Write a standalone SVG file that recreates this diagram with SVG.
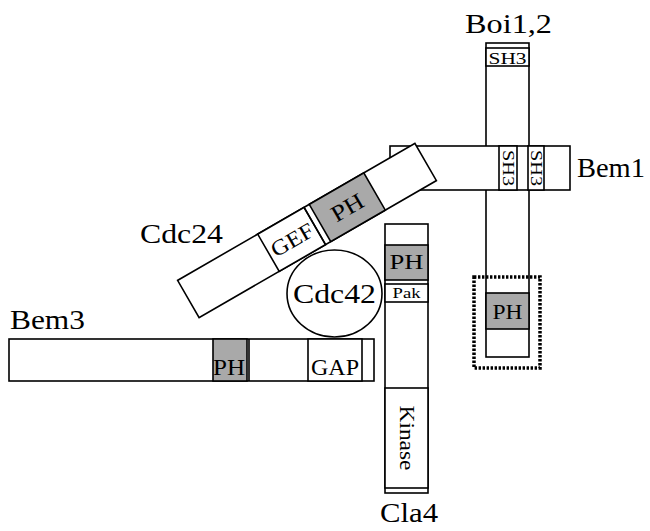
<svg xmlns="http://www.w3.org/2000/svg" width="650" height="531" viewBox="0 0 650 531">
<style>
.box{fill:#fff;stroke:#000;stroke-width:1.6}
.ph{fill:#a9a9a9;stroke:#000;stroke-width:1.6}
.ln{stroke:#000;stroke-width:1.6;fill:none}
.dash{fill:none;stroke:#000;stroke-width:3.5;stroke-dasharray:2.4 1.6}
text{font-family:"Liberation Serif","Times New Roman",serif;fill:#000}
.lbl{font-size:28px}
.sm{font-size:22px}
</style>
<rect width="650" height="531" fill="#fff"/>

<g id="boi">
  <rect class="box" x="486" y="43" width="43" height="314"/>
  <rect class="box" x="486" y="48" width="43" height="18"/>
  <text x="507.5" y="64" font-size="17" text-anchor="middle" textLength="38" lengthAdjust="spacingAndGlyphs">SH3</text>
  <rect class="ph" x="486" y="293" width="43" height="36"/>
  <text class="sm" x="507.5" y="319" text-anchor="middle" textLength="30" lengthAdjust="spacingAndGlyphs">PH</text>
  <rect class="dash" x="474" y="277" width="66" height="91"/>
  <text class="lbl" x="465" y="33" textLength="87" lengthAdjust="spacingAndGlyphs">Boi1,2</text>
</g>

<g id="bem1">
  <rect class="box" x="390" y="146" width="180" height="44"/>
  <rect class="box" x="499" y="146" width="18" height="44"/>
  <rect class="box" x="528" y="146" width="16" height="44"/>
  <text transform="translate(508,168) rotate(90)" x="0" y="5.5" font-size="17" text-anchor="middle" textLength="36" lengthAdjust="spacingAndGlyphs">SH3</text>
  <text transform="translate(536,168) rotate(90)" x="0" y="5.5" font-size="17" text-anchor="middle" textLength="36" lengthAdjust="spacingAndGlyphs">SH3</text>
  <text class="lbl" x="577" y="177" textLength="68" lengthAdjust="spacingAndGlyphs">Bem1</text>
</g>

<g id="cdc24">
  <g transform="translate(307,230.5) rotate(-30)">
    <rect class="box" x="-137" y="-21.5" width="274" height="43"/>
    <rect class="box" x="-44.5" y="-21.5" width="53.5" height="43"/>
    <rect class="ph" x="15" y="-21.5" width="63" height="43"/>
    <line class="ln" x1="9" y1="-21.5" x2="9" y2="21.5"/>
    <text x="-17.5" y="8" font-size="22" text-anchor="middle" textLength="46" lengthAdjust="spacingAndGlyphs">GEF</text>
    <text x="46.5" y="8" font-size="23" text-anchor="middle" textLength="34" lengthAdjust="spacingAndGlyphs">PH</text>
  </g>
  <text class="lbl" x="140" y="243" textLength="83" lengthAdjust="spacingAndGlyphs">Cdc24</text>
</g>

<g id="cdc42">
  <ellipse class="box" cx="334.5" cy="293.5" rx="47.5" ry="43.5"/>
  <text class="lbl" x="293" y="303" textLength="83" lengthAdjust="spacingAndGlyphs">Cdc42</text>
</g>

<g id="bem3">
  <rect class="box" x="9" y="339" width="365" height="42"/>
  <rect class="ph" x="213" y="339" width="34" height="42"/>
  <line class="ln" x1="249" y1="339" x2="249" y2="381"/>
  <rect class="box" x="308" y="339" width="54" height="42"/>
  <text x="229" y="375" font-size="24" text-anchor="middle" textLength="32" lengthAdjust="spacingAndGlyphs">PH</text>
  <text x="335" y="375" font-size="24" text-anchor="middle" textLength="48" lengthAdjust="spacingAndGlyphs">GAP</text>
  <text class="lbl" x="10" y="329" textLength="75" lengthAdjust="spacingAndGlyphs">Bem3</text>
</g>

<g id="cla4">
  <rect class="box" x="385" y="224" width="43" height="269"/>
  <rect class="ph" x="385" y="245" width="43" height="35"/>
  <rect class="box" x="385" y="284" width="43" height="18"/>
  <rect class="box" x="385" y="388" width="43" height="100"/>
  <text class="sm" x="406.5" y="269" text-anchor="middle" textLength="34" lengthAdjust="spacingAndGlyphs">PH</text>
  <text x="406.5" y="298" font-size="14" text-anchor="middle" textLength="28" lengthAdjust="spacingAndGlyphs">Pak</text>
  <text transform="translate(406.5,438) rotate(90)" x="0" y="7" font-size="22" text-anchor="middle" textLength="65" lengthAdjust="spacingAndGlyphs">Kinase</text>
  <text class="lbl" x="380" y="522" textLength="58" lengthAdjust="spacingAndGlyphs">Cla4</text>
</g>

<g id="connectors"></g>
</svg>
